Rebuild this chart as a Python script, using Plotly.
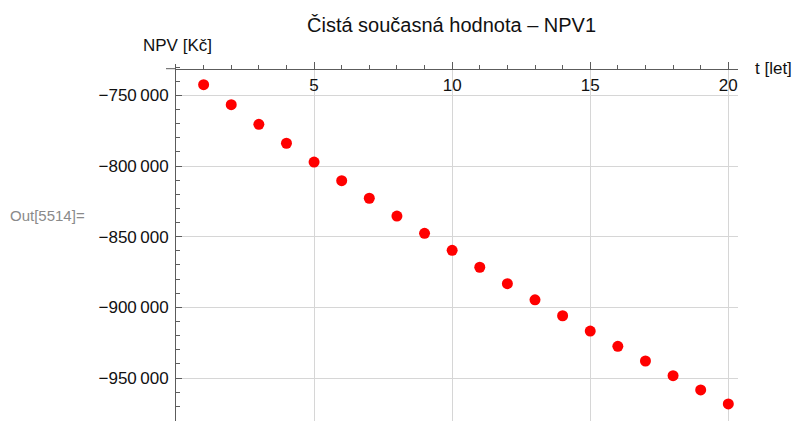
import plotly.graph_objects as go

# Net present value of the project by year
years = list(range(1, 21))
npv = [-742500, -756600, -770500, -783900, -797200, -810400, -822800, -835400,
       -847600, -859600, -871600, -883200, -894600, -905900, -916700, -927500,
       -937900, -948300, -958400, -968300]

x_ticks = [5, 10, 15, 20]
y_ticks = [-750000, -800000, -850000, -900000, -950000]
y_tick_text = ["\u2212" + f"{abs(v):,}".replace(",", "\u2009") for v in y_ticks]

title_text = "Čistá současná hodnota \u2013 NPV1"
y_label = "NPV [Kč]"
x_label = "t [let]"
cell_label = "Out[5514]="

W, H = 796, 421
L, R, T, B = 176, 58, 64, 0
PW, PH = W - L - R, H - T - B


def px_x(px):
    return (px - L) / PW


def px_y(py):
    return (H - B - py) / PH


FONT = "Liberation Sans, Arial, sans-serif"
AXIS = "#5c5c5c"
GRID = "#d6d6d6"
TEXT = "#111111"

fig = go.Figure(
    go.Scatter(
        x=years, y=npv, mode="markers",
        marker=dict(color="#ff0000", size=11, line=dict(width=0)),
        hoverinfo="x+y",
    )
)

x_axis_pos = px_y(68.7)

fig.update_layout(
    width=W, height=H,
    margin=dict(l=L, r=R, t=T, b=B, pad=0),
    paper_bgcolor="white", plot_bgcolor="white",
    showlegend=False,
    font=dict(family=FONT, size=16, color=TEXT),
    xaxis=dict(
        range=[0, PW / 27.615], anchor="free", position=x_axis_pos, side="bottom",
        showline=True, linecolor=AXIS, linewidth=1,
        tickvals=x_ticks, ticks="inside", ticklen=7, tickcolor=AXIS, tickwidth=1,
        minor=dict(dtick=1, tick0=0, ticks="inside", ticklen=3.5, tickcolor=AXIS,
                   showgrid=False),
        showgrid=True, gridcolor=GRID, gridwidth=1, zeroline=False,
        tickfont=dict(size=17, color=TEXT),
        ticklabelstandoff=1,
    ),
    yaxis=dict(
        range=[-750000 - (H - B - 95.3) * 707.2, -750000 + (95.3 - T) * 707.2],
        showline=True, linecolor=AXIS, linewidth=1,
        tickvals=y_ticks, ticktext=y_tick_text, ticks="inside", ticklen=6,
        tickcolor=AXIS, tickwidth=1,
        minor=dict(dtick=10000, tick0=0, ticks="inside", ticklen=3.5,
                   tickcolor=AXIS, showgrid=False),
        showgrid=True, gridcolor=GRID, gridwidth=1, zeroline=False,
        tickfont=dict(size=17, color=TEXT),
        ticklabelstandoff=3,
    ),
    shapes=[
        # short stub of the horizontal axis left of the vertical axis
        dict(type="line", xref="paper", yref="paper",
             x0=px_x(166), x1=0, y0=x_axis_pos, y1=x_axis_pos,
             line=dict(color=AXIS, width=1)),
    ],
    annotations=[
        dict(text=title_text, xref="paper", yref="paper", x=px_x(451), y=px_y(25),
             xanchor="center", yanchor="middle", showarrow=False,
             font=dict(size=20, color=TEXT)),
        dict(text=y_label, xref="paper", yref="paper", x=px_x(177), y=px_y(46),
             xanchor="center", yanchor="middle", showarrow=False,
             font=dict(size=17, color=TEXT)),
        dict(text=x_label, xref="paper", yref="paper", x=px_x(753), y=px_y(69),
             xanchor="left", yanchor="middle", showarrow=False,
             font=dict(size=17, color=TEXT)),
        dict(text=cell_label, xref="paper", yref="paper", x=px_x(87), y=px_y(215),
             xanchor="right", yanchor="middle", showarrow=False,
             font=dict(size=15, color="#8a8a8a")),
    ],
)

fig.write_html("out.html")
